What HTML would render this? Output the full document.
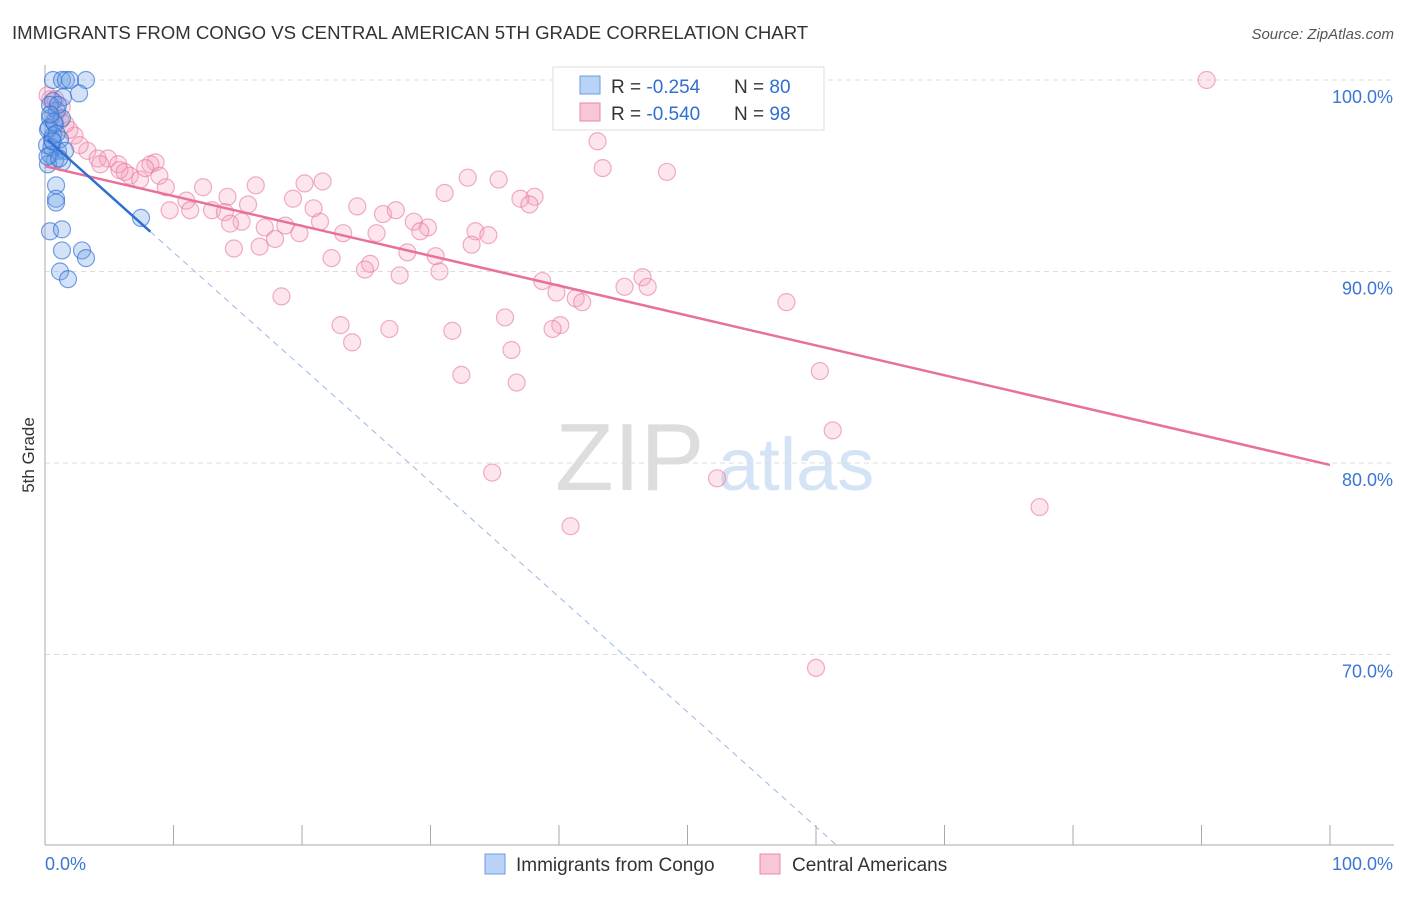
<!DOCTYPE html>
<html><head><meta charset="utf-8"><style>
body{margin:0;background:#fff;font-family:"Liberation Sans",sans-serif}
svg text{font-family:"Liberation Sans",sans-serif}
</style></head><body>
<svg id="chart" width="1406" height="892">
<text x="12" y="39" font-size="18.6" fill="#333">IMMIGRANTS FROM CONGO VS CENTRAL AMERICAN 5TH GRADE CORRELATION CHART</text>
<text x="1394" y="39" font-size="15" fill="#555" text-anchor="end" font-style="italic">Source: ZipAtlas.com</text>
<text x="34" y="455" font-size="17" fill="#333" transform="rotate(-90 34 455)" text-anchor="middle">5th Grade</text>
<g><text x="555" y="490" font-size="96" fill="#ddd" font-family="Liberation Serif">ZIP</text><text x="718" y="490" font-size="74" fill="#d4e3f5">atlas</text></g>
<g id="grid"></g><g id="axes"></g><g id="marks"></g>
<g>
<rect x="553" y="67" width="271" height="63" fill="#fff" stroke="#ddd"/>
<rect x="580" y="76" width="20" height="18" fill="#b8d3f5" stroke="#6a9ee0"/>
<rect x="580" y="103" width="20" height="18" fill="#f8c6d6" stroke="#e889a8"/>
<text x="611" y="93" font-size="19" fill="#333">R = <tspan fill="#2f6fd0">-0.254</tspan></text>
<text x="734" y="93" font-size="19" fill="#333">N = <tspan fill="#2f6fd0">80</tspan></text>
<text x="611" y="120" font-size="19" fill="#333">R = <tspan fill="#2f6fd0">-0.540</tspan></text>
<text x="734" y="120" font-size="19" fill="#333">N = <tspan fill="#2f6fd0">98</tspan></text>
</g>
<g>
<rect x="485" y="854" width="20" height="20" fill="#b8d3f5" stroke="#6a9ee0"/>
<text x="516" y="871" font-size="19" fill="#333">Immigrants from Congo</text>
<rect x="760" y="854" width="20" height="20" fill="#f8c6d6" stroke="#e889a8"/>
<text x="792" y="871" font-size="19" fill="#333">Central Americans</text>
</g>
</svg>
<script>
const yTicks=[100,90,80,70];
const yTickLabels=["100.0%","90.0%","80.0%","70.0%"];
const xTickLabels=["0.0%","100.0%"];
const congoX=[0.62,1.32,1.63,1.95,3.19,2.65,1.4,0.62,0.93,0.39,0.78,1.32,0.23,0.54,1.01,0.39,0.78,1.32,0.23,0.86,0.86,0.86,0.39,1.32,1.32,2.88,3.19,1.17,1.79,7.47,0.16,1.17,1.56,0.39,1.01,0.62,0.3,0.5,0.7,0.2,0.9,1.1,0.4,0.6];
const congoY=[100,100,100,100,100,99.3,99.1,98.9,98.4,98.0,97.7,98.0,97.4,96.9,96.3,96.1,95.8,95.7,95.6,94.5,93.8,93.6,92.1,92.2,91.1,91.1,90.7,90.0,89.6,92.8,96.6,96.9,96.3,98.7,98.7,97.1,97.5,96.5,97.8,96.0,97.2,95.9,98.2,96.8];
const centralX=[90.4,43.0,43.4,48.4,32.9,35.3,21.6,20.2,16.4,12.3,9.4,31.1,38.1,37.0,37.7,19.3,24.3,26.3,27.3,20.9,15.8,14.2,11.0,9.7,11.3,13.0,14.0,15.3,14.4,17.1,18.7,19.8,17.9,21.4,23.2,25.8,28.7,29.8,29.2,33.5,34.5,33.2,28.2,30.4,14.7,16.7,22.3,25.3,24.9,27.6,30.7,38.7,39.8,41.3,41.8,45.1,46.5,46.9,57.7,18.4,35.8,40.1,39.5,23.0,26.8,31.7,23.9,36.3,32.4,36.7,60.3,61.3,34.8,52.3,40.9,77.4,60.0,3.3,4.1,4.9,5.7,6.6,7.4,8.6,8.2,5.8,2.3,1.9,2.7,0.8,1.2,1.6,0.4,0.8,1.3,0.2,4.3,6.2,7.8,8.9];
const centralY=[100,96.8,95.4,95.2,94.9,94.8,94.7,94.6,94.5,94.4,94.4,94.1,93.9,93.8,93.5,93.8,93.4,93.0,93.2,93.3,93.5,93.9,93.7,93.2,93.2,93.2,93.1,92.6,92.5,92.3,92.4,92.0,91.7,92.6,92.0,92.0,92.6,92.3,92.1,92.1,91.9,91.4,91.0,90.8,91.2,91.3,90.7,90.4,90.1,89.8,90.0,89.5,88.9,88.6,88.4,89.2,89.7,89.2,88.4,88.7,87.6,87.2,87.0,87.2,87.0,86.9,86.3,85.9,84.6,84.2,84.8,81.7,79.5,79.2,76.7,77.7,69.3,96.3,95.9,95.9,95.6,95.0,94.8,95.7,95.6,95.3,97.1,97.4,96.6,98.2,97.9,97.7,99.0,99.0,98.6,99.2,95.6,95.2,95.4,95.0];
const centralTrend=[95.5,79.9];
const congoTrend=[97.0,-0.6];
const X=v=>45+v*12.85, Y=v=>80+(100-v)*19.15;
const NS="http://www.w3.org/2000/svg";
function mk(parent,tag,attrs){const e=document.createElementNS(NS,tag);for(const k in attrs)e.setAttribute(k,attrs[k]);document.getElementById(parent).appendChild(e);return e;}
yTicks.forEach((t,i)=>{
 const l=mk('grid','line',{x1:45,x2:1394,y1:Y(t),y2:Y(t),stroke:'#ddd','stroke-dasharray':'5,4'});
 
 
 const tx=mk('grid','text',{x:1393,y:Y(t)+23,'font-size':18,fill:'#3a76d4','text-anchor':'end'});tx.textContent=yTickLabels[i];
 
 
});
let a=mk('axes','line',{x1:45,x2:45,y1:65,y2:845,stroke:'#aaa'});


a=mk('axes','line',{x1:45,x2:1394,y1:845,y2:845,stroke:'#aaa'});


for(let i=0;i<=10;i++){const t=mk('axes','line',{x1:X(i*10),x2:X(i*10),y1:825,y2:845,stroke:'#aaa'});
 
 }
let xl=mk('axes','text',{x:45,y:870,'font-size':18,fill:'#3a76d4'});xl.textContent=xTickLabels[0];


xl=mk('axes','text',{x:1393,y:870,'font-size':18,fill:'#3a76d4','text-anchor':'end'});xl.textContent=xTickLabels[1];


centralX.forEach((v,i)=>{const c=mk('marks','circle',{cx:X(v),cy:Y(centralY[i]),r:8.5,fill:'rgba(245,160,190,0.28)',stroke:'rgba(232,120,160,0.6)','stroke-width':1.2});
 
 });
congoX.forEach((v,i)=>{const c=mk('marks','circle',{cx:X(v),cy:Y(congoY[i]),r:8.5,fill:'rgba(110,160,230,0.3)',stroke:'rgba(50,110,210,0.65)','stroke-width':1.2});
 
 });
let ln=mk('marks','line',{x1:X(0),y1:Y(centralTrend[0]),x2:X(100),y2:Y(centralTrend[1]),stroke:'#e8719a','stroke-width':2.5});


const bx=[0.2,8.2],bd=61.7;
ln=mk('marks','line',{x1:X(bx[1]),y1:Y(congoTrend[0]+congoTrend[1]*bx[1]),x2:X(bd),y2:Y(congoTrend[0]+congoTrend[1]*bd),stroke:'#9ab8e4','stroke-width':1,'stroke-dasharray':'6,5'});


ln=mk('marks','line',{x1:X(bx[0]),y1:Y(congoTrend[0]+congoTrend[1]*bx[0]),x2:X(bx[1]),y2:Y(congoTrend[0]+congoTrend[1]*bx[1]),stroke:'#2f6fd0','stroke-width':2.5});


</script>
</body></html>
